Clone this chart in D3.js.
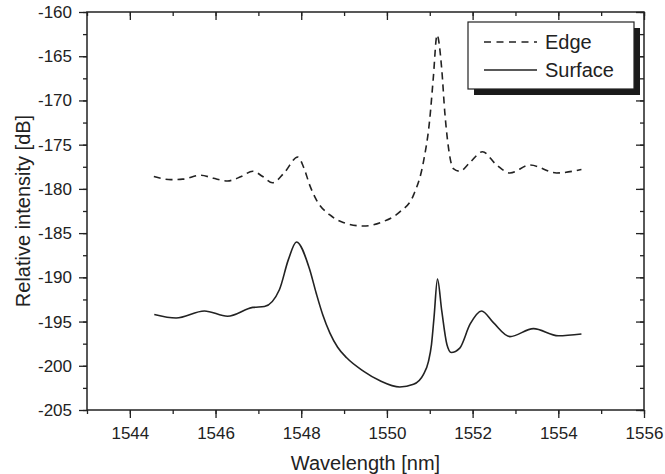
<!DOCTYPE html>
<html>
<head>
<meta charset="utf-8">
<script src="https://cdn.jsdelivr.net/npm/d3@7/dist/d3.min.js"></script>
<style>
  body { margin: 0; background: #fff; }
  svg text { font-family: "Liberation Sans", Arial, sans-serif; fill: #222; }
</style>
</head>
<body>
<svg width="665" height="474"></svg>
<script>
// wavelength [nm] / relative intensity [dB]
var edgeWl = [1544.56, 1544.96, 1545.23, 1545.66, 1545.95, 1546.28, 1546.6, 1546.87, 1547.1, 1547.33,
              1547.6, 1547.92, 1548.06, 1548.2, 1548.36, 1548.67, 1548.98, 1549.45, 1549.91, 1550.3,
              1550.62, 1550.85, 1551.0, 1551.08, 1551.17, 1551.28, 1551.35, 1551.43, 1551.55, 1551.7,
              1551.94, 1552.23, 1552.56, 1552.87, 1553.34, 1553.96, 1554.54];
var edgeDb = [-178.6, -178.95, -178.9, -178.45, -178.8, -179.1, -178.6, -178.0, -178.6, -179.3,
              -178.2, -176.4, -177.6, -179.6, -181.3, -182.95, -183.8, -184.2, -183.7, -182.6,
              -180.7, -177.0, -172.1, -167.6, -162.6, -166.5, -171.3, -175.1, -177.7, -178.0,
              -177.0, -175.8, -177.3, -178.2, -177.3, -178.2, -177.8];

var surfWl = [1544.57, 1545.08, 1545.74, 1546.28, 1546.87, 1547.14, 1547.49, 1547.7, 1547.89, 1548.19,
              1548.35, 1548.5, 1548.67, 1548.85, 1549.06, 1549.45, 1549.84, 1550.3, 1550.62, 1550.85,
              1550.97, 1551.04, 1551.1, 1551.18, 1551.28, 1551.4, 1551.5, 1551.7, 1551.94, 1552.21,
              1552.48, 1552.87, 1553.42, 1554.0, 1554.54];
var surfDb = [-194.2, -194.6, -193.8, -194.4, -193.4, -193.3, -191.4, -188.0, -186.0, -189.0,
              -191.8, -194.2, -196.3, -197.9, -199.1, -200.6, -201.7, -202.4, -202.1, -201.0,
              -199.5, -197.6, -194.5, -190.2, -193.8, -197.6, -198.5, -198.0, -195.3, -193.8,
              -195.1, -196.7, -195.8, -196.6, -196.4];

var xTicks = [1544, 1546, 1548, 1550, 1552, 1554, 1556];
var yTicks = [-160, -165, -170, -175, -180, -185, -190, -195, -200, -205];
var seriesNames = ['Edge', 'Surface'];

var pl = 87, pr = 644, pt = 12, pb = 410;
var ink = '#222';

var svg = d3.select('svg');

var x = d3.scaleLinear().domain([1543, 1556]).range([pl, pr]);
var y = d3.scaleLinear().domain([-205, -160]).range([pb, pt]);

var xMinor = d3.range(1543, 1556.5, 1);
var yMinor = d3.range(-205, -159, 2.5);

function styleAxis(g) {
    g.select('.domain').remove();
    g.selectAll('line').attr('stroke', ink).attr('stroke-width', 1.3);
    g.selectAll('text').attr('font-size', 17).attr('fill', ink);
}

// bottom
svg.append('g').attr('transform', 'translate(0,' + pb + ')')
    .call(d3.axisBottom(x).tickValues(xMinor).tickSize(4).tickFormat(''))
    .call(styleAxis);
svg.append('g').attr('transform', 'translate(0,' + pb + ')')
    .call(d3.axisBottom(x).tickValues(xTicks).tickSize(8).tickPadding(9).tickFormat(d3.format('d')))
    .call(styleAxis);

// left
svg.append('g').attr('transform', 'translate(' + pl + ',0)')
    .call(d3.axisLeft(y).tickValues(yMinor).tickSize(4).tickFormat(''))
    .call(styleAxis);
svg.append('g').attr('transform', 'translate(' + pl + ',0)')
    .call(d3.axisLeft(y).tickValues(yTicks).tickSize(8).tickPadding(7).tickFormat(d => d))
    .call(styleAxis);

// top and right, ticks inside
svg.append('g').attr('transform', 'translate(0,' + pt + ')')
    .call(d3.axisTop(x).tickValues(xMinor).tickSize(-4).tickFormat(''))
    .call(styleAxis);
svg.append('g').attr('transform', 'translate(0,' + pt + ')')
    .call(d3.axisTop(x).tickValues(xTicks).tickSize(-8).tickFormat(''))
    .call(styleAxis);
svg.append('g').attr('transform', 'translate(' + pr + ',0)')
    .call(d3.axisRight(y).tickValues(yMinor).tickSize(-4).tickFormat(''))
    .call(styleAxis);
svg.append('g').attr('transform', 'translate(' + pr + ',0)')
    .call(d3.axisRight(y).tickValues(yTicks).tickSize(-8).tickFormat(''))
    .call(styleAxis);

svg.append('rect')
    .attr('x', pl).attr('y', pt)
    .attr('width', pr - pl).attr('height', pb - pt)
    .attr('fill', 'none').attr('stroke', ink).attr('stroke-width', 1.5);

// curves
var line = d3.line()
    .x(d => x(d[0]))
    .y(d => y(d[1]))
    .curve(d3.curveMonotoneX);

var edge = edgeWl.map((w, i) => [w, edgeDb[i]]);
var surf = surfWl.map((w, i) => [w, surfDb[i]]);

svg.append('path').datum(edge)
    .attr('d', line)
    .attr('fill', 'none').attr('stroke', ink).attr('stroke-width', 1.6)
    .attr('stroke-dasharray', '7,5');

svg.append('path').datum(surf)
    .attr('d', line)
    .attr('fill', 'none').attr('stroke', ink).attr('stroke-width', 1.6);

// legend with drop shadow
var lg = svg.append('g').attr('transform', 'translate(468,22)');
lg.append('rect').attr('x', 6).attr('y', 6).attr('width', 166).attr('height', 67).attr('fill', '#1a1a1a');
lg.append('rect').attr('x', 0).attr('y', 0).attr('width', 166).attr('height', 67)
    .attr('fill', '#fff').attr('stroke', ink).attr('stroke-width', 1.2);

seriesNames.forEach((name, i) => {
    var ly = 20 + i * 28;
    lg.append('line')
        .attr('x1', 16).attr('x2', 69).attr('y1', ly).attr('y2', ly)
        .attr('stroke', ink).attr('stroke-width', 1.6)
        .attr('stroke-dasharray', i == 0 ? '7,5.5' : null);
    lg.append('text')
        .attr('x', 77).attr('y', ly + 7)
        .attr('font-size', 20)
        .text(name);
});

// axis titles
svg.append('text')
    .attr('x', (pl + pr) / 2).attr('y', 470)
    .attr('text-anchor', 'middle').attr('font-size', 20)
    .text('Wavelength [nm]');

svg.append('text')
    .attr('transform', 'translate(30,' + ((pt + pb) / 2) + ') rotate(-90)')
    .attr('text-anchor', 'middle').attr('font-size', 20)
    .text('Relative intensity [dB]');
</script>
</body>
</html>
